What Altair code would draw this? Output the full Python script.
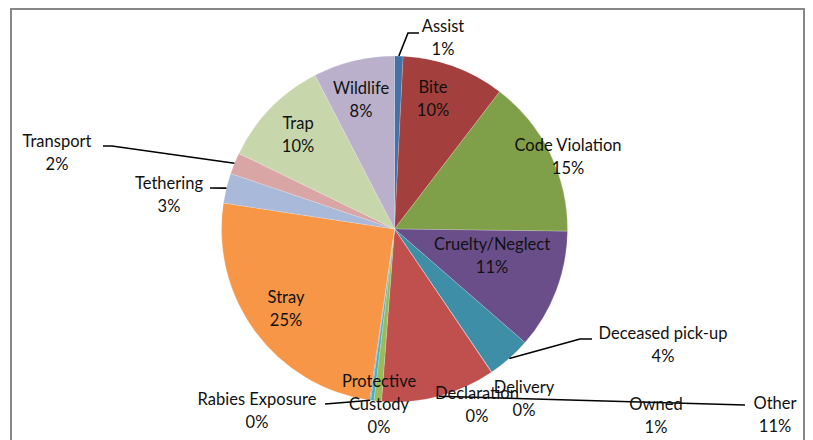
import altair as alt
import pandas as pd
import numpy as np

# ---- data (percent of calls) ----
categories = ["Assist", "Bite", "Code Violation", "Cruelty/Neglect", "Deceased pick-up",
              "Declaration", "Delivery", "Other", "Owned", "Protective Custody",
              "Rabies Exposure", "Stray", "Tethering", "Transport", "Trap", "Wildlife"]
values = [0.8, 9.6, 14.8, 11.2, 4.1, 0.02, 0.02, 10.66, 0.7, 0.3, 0.1, 25.1, 2.8, 2.0, 10.2, 7.6]
pct_labels = ["1%", "10%", "15%", "11%", "4%", "0%", "0%", "11%", "1%", "0%", "0%",
              "25%", "3%", "2%", "10%", "8%"]
colors = ["#4371A8", "#A33F3D", "#7F9F48", "#6A4E8A", "#3D8EA6", "#3D8EA6", "#C0504D",
          "#C0504D", "#9BBB59", "#4BACC6", "#4BACC6", "#F79646", "#A9B9D9", "#D9A6A5",
          "#C7D7AB", "#BAB0CC"]

# ---- layout (screen pixels) ----
W, H = 797, 432
CX, CY, R = 394.5, 229.0, 173.0
FONT = "Lato"
FS = 16.5
LH = 23

label_lines = {
    "Protective Custody": ["Protective", "Custody"],
}
label_pos = {
    "Assist": (443, 27), "Bite": (433, 88), "Code Violation": (568, 146),
    "Cruelty/Neglect": (492, 245), "Deceased pick-up": (663, 334),
    "Declaration": (477, 394), "Delivery": (524, 388), "Other": (775, 404),
    "Owned": (656, 405), "Protective Custody": (379, 382), "Rabies Exposure": (257, 400),
    "Stray": (286, 298), "Tethering": (169, 184), "Transport": (57, 142),
    "Trap": (298, 124), "Wildlife": (361, 89),
}
leader_path = {
    "Assist": [(408, 33), (419, 33)],
    "Deceased pick-up": [(580, 339), (592, 339)],
    "Other": [(745, 405)],
    "Rabies Exposure": [(350, 402), (325, 404)],
    "Tethering": [(210, 188)],
    "Transport": [(112, 146), (103, 146)],
}

df = pd.DataFrame({"category": categories, "value": values, "idx": range(len(categories))})

# text rows
trows = []
for c, p in zip(categories, pct_labels):
    x, y = label_pos[c]
    lines = label_lines.get(c, [c]) + [p]
    for i, t in enumerate(lines):
        trows.append({"px": x, "py": y + i * LH, "t": t})
tdf = pd.DataFrame(trows)

# leader lines: start on slice edge at the mid angle of the slice
total = float(np.sum(values))
cum = np.cumsum(values)
lrows = []
for i, c in enumerate(categories):
    if c not in leader_path:
        continue
    mid = (cum[i] - values[i] / 2) / total * 2 * np.pi
    sx = CX + R * np.sin(mid)
    sy = CY - R * np.cos(mid)
    pts = [(sx, sy)] + leader_path[c]
    for k, (x, y) in enumerate(pts):
        lrows.append({"category": c, "seq": k, "px": x, "py": y})
ldf = pd.DataFrame(lrows)

xs = alt.Scale(domain=[8, 8 + W], nice=False, zero=False)
ys = alt.Scale(domain=[8 + H, 8], nice=False, zero=False)

pie = alt.Chart(df).mark_arc(radius=R, stroke="#ffffff", strokeWidth=0.3, strokeOpacity=0.6).encode(
    theta=alt.Theta("value:Q", stack=True),
    order=alt.Order("idx:Q"),
    color=alt.Color("category:N", scale=alt.Scale(domain=categories, range=colors), legend=None),
    x=alt.value(CX - 8),
    y=alt.value(CY - 8),
)

leaders = alt.Chart(ldf).mark_line(color="#000000", strokeWidth=1.6).encode(
    x=alt.X("px:Q", scale=xs, axis=None),
    y=alt.Y("py:Q", scale=ys, axis=None),
    detail="category:N",
    order="seq:Q",
)

texts = alt.Chart(tdf).mark_text(font=FONT, fontSize=FS, color="#111111",
                                 align="center", baseline="middle").encode(
    x=alt.X("px:Q", scale=xs, axis=None),
    y=alt.Y("py:Q", scale=ys, axis=None),
    text="t:N",
)

frame_col = "#878787"
frame_top = alt.Chart(df).mark_rule(color=frame_col, strokeWidth=2).encode(
    x=alt.value(3), x2=alt.value(W - 1), y=alt.value(1))
frame_left = alt.Chart(df).mark_rule(color=frame_col, strokeWidth=2).encode(
    x=alt.value(3), y=alt.value(0), y2=alt.value(H))
frame_right = alt.Chart(df).mark_rule(color=frame_col, strokeWidth=2).encode(
    x=alt.value(W - 1), y=alt.value(0), y2=alt.value(H))

chart = alt.layer(pie, leaders, texts, frame_top, frame_left, frame_right).properties(
    width=W, height=H, padding=0, autosize=alt.AutoSizeParams(type="none"),
    background="#ffffff",
).configure_view(stroke=None)

chart.save("out.html", embed_options={"renderer": "svg", "actions": False})
